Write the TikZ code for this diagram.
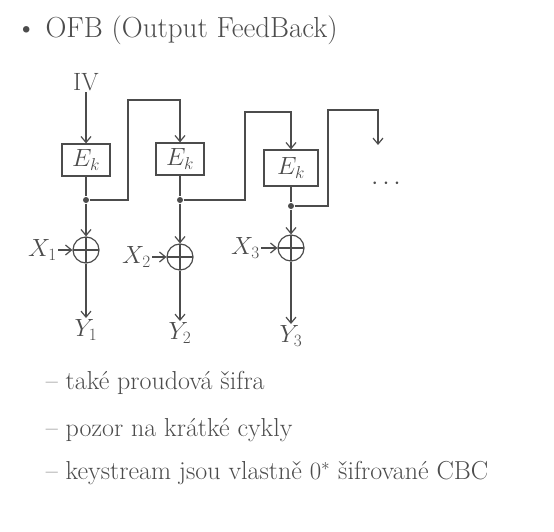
\documentclass[tikz,border=0pt]{standalone}
\usetikzlibrary{positioning,calc,arrows.meta}
\begin{document}
\begin{tikzpicture}[x=1pt,y=-1pt,line width=1.2pt,color=black!70,
	>={Straight Barb[length=6pt,width=10pt]},
	cipher/.style={draw,minimum width=48pt,minimum height=32pt,inner sep=0pt,font=\fontsize{24}{26}\selectfont},
	xor/.style={draw,circle,minimum size=26pt,inner sep=0pt,
		path picture={\draw (path picture bounding box.north) -- (path picture bounding box.south)
			(path picture bounding box.west) -- (path picture bounding box.east);}},
	tap/.style={circle,fill,inner sep=0pt,minimum size=6pt},
	lbl/.style={font=\fontsize{25}{28}\selectfont,inner sep=1pt},
	note/.style={anchor=west,font=\fontsize{26}{30}\selectfont}]
	\useasboundingbox (0,0) rectangle (554,532);
	%
	\node[anchor=west,font=\fontsize{29}{33}\selectfont] (title) at (12,30) {\textbullet\ OFB (Output FeedBack)};
	\node[lbl] (iv) at (86,82) {IV};
	\node[cipher] (ek1) at (86,160) {$E_k$};
	\node[cipher] (ek2) at (180,159) {$E_k$};
	\node[cipher,minimum width=54pt,minimum height=36pt] (ek3) at (291,168) {$E_k$};
	\node[tap] (t1) at (86,200) {};
	\node[tap] (t2) at (180,200) {};
	\node[tap] (t3) at (291,206) {};
	\node[xor] (xor1) at (86,250) {};
	\node[xor] (xor2) at (180,257) {};
	\node[xor] (xor3) at (291,248) {};
	\node[lbl,left=14pt of xor1] (x1) {$X_1$};
	\node[lbl,left=14pt of xor2] (x2) {$X_2$};
	\node[lbl,left=16pt of xor3] (x3) {$X_3$};
	\node[lbl] (y1) at (86,330) {$Y_1$};
	\node[lbl] (y2) at (180,333) {$Y_2$};
	\node[lbl] (y3) at (291,336) {$Y_3$};
	\node[font=\fontsize{30}{30}\selectfont] (more) at (386,184) {$\cdots$};
	\coordinate (fb1) at (128,100);
	\coordinate (fb2) at (245,112);
	\coordinate (fb3) at (328,110);
	\coordinate (open) at (378,145);
	%
	\draw[->] (iv) -- (ek1);
	\draw (ek1) -- (t1);
	\draw (ek2) -- (t2);
	\draw (ek3) -- (t3);
	\draw[->] (t1) -- (xor1);
	\draw[->] (t2) -- (xor2);
	\draw[->] (t3) -- (xor3);
	\draw[->] (t1) -| (fb1) -| (ek2.north);
	\draw[->] (t2) -| (fb2) -| (ek3.north);
	\draw[->] (t3) -| (fb3) -| (open);
	\draw[->] (x1) -- (xor1);
	\draw[->] (x2) -- (xor2);
	\draw[->] (x3) -- (xor3);
	\draw[->] (xor1) -- (y1);
	\draw[->] (xor2) -- (y2);
	\draw[->] (xor3) -- (y3);
	%
	\node[note] (n1) at (42,383) {-- také proudová šifra};
	\node[note] (n2) at (42,430) {-- pozor na krátké cykly};
	\node[note] (n3) at (42,473) {-- keystream jsou vlastně $0^*$ šifrované CBC};
\end{tikzpicture}
\end{document}
